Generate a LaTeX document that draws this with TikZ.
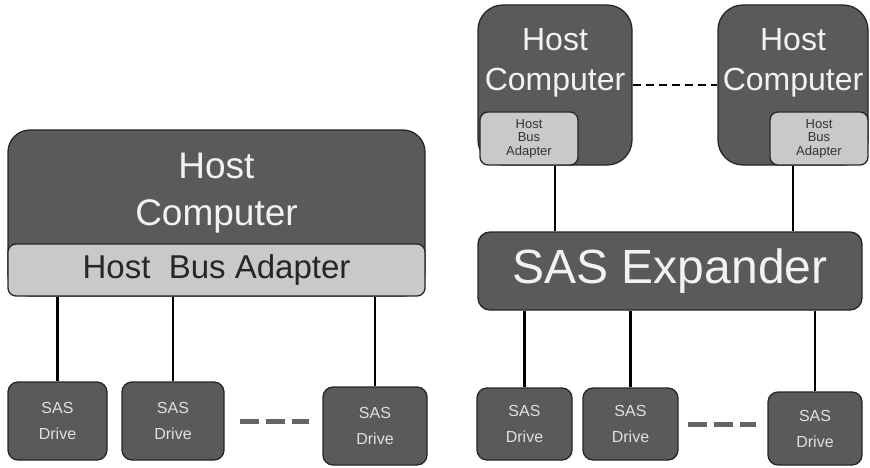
\documentclass[tikz,border=0pt]{standalone}
\usepackage{fontspec}
\setmainfont{Liberation Sans}
\definecolor{boxgray}{HTML}{5A5A5A}
\definecolor{hbagray}{HTML}{C9C9C9}
\definecolor{linkgray}{HTML}{666666}
\tikzset{
  darkbox/.style={draw=black!85, line width=1.3pt, fill=boxgray, inner sep=0pt},
  hbabox/.style={draw=black!85, line width=1.3pt, fill=hbagray, inner sep=0pt, rounded corners=8pt, text=black!85},
  drivebox/.style={darkbox, rounded corners=10pt, text=white!88!black, align=center, font=\fontsize{16}{26}\selectfont},
  hosttxt/.style={text=white!95!black, align=center},
  link/.style={line width=2.2pt, black},
  dotlink/.style={line width=5pt, linkgray, dash pattern=on 19pt off 7pt},
}

\begin{document}
\begin{tikzpicture}[x=1pt, y=-1pt]
  \useasboundingbox (0,0) rectangle (870,468);
  \node[darkbox, rounded corners=22pt, minimum width=417pt, minimum height=166pt,
        label={[hosttxt, font=\fontsize{37}{47}\selectfont, yshift=20pt]center:{Host\\Computer}}] (hostA) at (216.5,213) {};
  \node[hbabox, minimum width=417pt, minimum height=52pt, font=\fontsize{33}{40}\selectfont] (hbaA) at (216.5,270) {Host\ \ Bus Adapter};
  \node[drivebox, minimum width=99pt, minimum height=78pt] (dA1) at (57.5,421) {SAS\\Drive};
  \node[drivebox, minimum width=102pt, minimum height=78pt] (dA2) at (173,421) {SAS\\Drive};
  \node[drivebox, minimum width=104pt, minimum height=78pt] (dA3) at (375,426) {SAS\\Drive};
  \foreach \d in {dA1,dA2,dA3}
    \draw[link] (\d.north) -- (\d.north |- hbaA.south);
  \draw[dotlink, shorten <=15pt, shorten >=13pt] (dA2.east) -- (dA2.east -| dA3.west);

  \node[darkbox, rounded corners=25pt, minimum width=154pt, minimum height=160pt,
        label={[hosttxt, font=\fontsize{32}{40}\selectfont, yshift=22pt]center:{Host\\Computer}}] (hostB) at (555,85) {};
  \node[hbabox, minimum width=98pt, minimum height=53pt, align=center, text=black!80, font=\fontsize{13}{13.5}\selectfont] (hbaB) at (529,138.5) {Host\\Bus\\Adapter};
  \node[darkbox, rounded corners=25pt, minimum width=150pt, minimum height=160pt,
        label={[hosttxt, font=\fontsize{32}{40}\selectfont, yshift=22pt]center:{Host\\Computer}}] (hostC) at (793,85) {};
  \node[hbabox, minimum width=98pt, minimum height=53pt, align=center, text=black!80, font=\fontsize{13}{13.5}\selectfont] (hbaC) at (819,138.5) {Host\\Bus\\Adapter};
  \draw[line width=1.5pt, dash pattern=on 8pt off 5pt] (hostB.east) -- (hostC.west);

  \node[darkbox, rounded corners=12pt, minimum width=384pt, minimum height=78pt, text=white!95!black, font=\fontsize{48}{48}\selectfont] (exp) at (670,271) {SAS Expander};
  \draw[link] (hbaB.south -| hostB.center) -- (exp.north -| hostB.center);
  \draw[link] (hbaC.south -| hostC.center) -- (exp.north -| hostC.center);

  \node[drivebox, minimum width=95pt, minimum height=72pt] (dB1) at (524.5,424) {SAS\\Drive};
  \node[drivebox, minimum width=95pt, minimum height=72pt] (dB2) at (630.5,424) {SAS\\Drive};
  \node[drivebox, minimum width=94pt, minimum height=73pt] (dB3) at (815,428.5) {SAS\\Drive};
  \foreach \d in {dB1,dB2,dB3}
    \draw[link] (\d.north) -- (\d.north |- exp.south);
  \draw[dotlink, shorten <=9pt, shorten >=11pt] (dB2.east) -- (dB2.east -| dB3.west);
\end{tikzpicture}
\end{document}
